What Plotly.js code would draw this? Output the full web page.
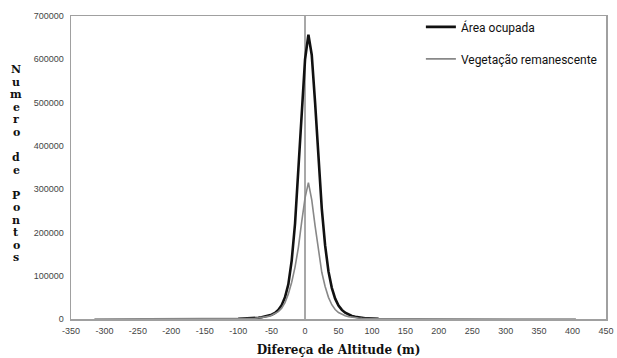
<!DOCTYPE html>
<html>
<head>
<meta charset="utf-8">
<script src="https://cdn.plot.ly/plotly-3.0.1.min.js"></script>
<style>html,body{margin:0;padding:0;background:#fff;}#chart{width:617px;height:358px;}</style>
</head>
<body>
<div id="chart"></div>
<script>
// Área ocupada
var xOcupada = [-100,-95,-90,-85,-80,-75,-70,-65,-60,-55,-50,-45,-40,-35,-30,-25,-20,-15,-10,-5,0,5,10,15,20,25,30,35,40,45,50,55,60,65,70,75,80,85,90,95,100,105,110];
var yOcupada = [400,600,900,1200,1600,2200,3000,4000,5500,7500,10000,14000,21000,32000,50000,80000,135000,220000,340000,480000,600000,657000,610000,500000,370000,255000,170000,110000,72000,47000,31000,21000,14500,10000,7000,5000,3600,2600,1900,1400,1000,700,450];
// Vegetação remanescente
var xVegetacao = [-315,-300,-250,-200,-150,-100,-95,-90,-85,-80,-75,-70,-65,-60,-55,-50,-45,-40,-35,-30,-25,-20,-15,-10,-5,0,5,10,15,20,25,30,35,40,45,50,55,60,65,70,75,80,85,90,95,100,105,110,150,200,250,300,350,405];
var yVegetacao = [30,40,60,80,150,500,650,850,1100,1500,1900,2500,3300,4500,6000,8500,12000,17000,25000,38000,58000,85000,120000,165000,225000,280000,315000,275000,215000,155000,108000,75000,50000,33000,22000,15000,10500,7500,5500,4000,3000,2200,1700,1300,1000,800,600,450,200,100,80,50,40,30];
var xTicks = [-350,-300,-250,-200,-150,-100,-50,0,50,100,150,200,250,300,350,400,450];
var yTicks = [0,100000,200000,300000,400000,500000,600000,700000];
var yTitle = "Numero de Pontos";
var xTitle = "Difereça de Altitude (m)";

var traces = [
  {x: xOcupada, y: yOcupada, name: "Área ocupada", type: "scatter", mode: "lines",
   line: {color: "#111111", width: 2.6}, legendgroup: "a"},
  {x: xVegetacao, y: yVegetacao, name: "Vegetação remanescente", type: "scatter", mode: "lines",
   line: {color: "#888888", width: 1.6}, legendgroup: "b"}
];

var ann = [];
var chars = yTitle.split("");
var top0 = 70, step = 12.5, H = 358, mt = 16, mb = 39;
var ph = H - mt - mb;
chars.forEach(function(c, i){
  if (c === " ") return;
  var py = top0 + i * step;
  ann.push({text: "<b>" + c + "</b>", xref: "paper", yref: "paper",
    x: (16 - 71) / 535, y: 1 - (py - mt) / ph, xanchor: "center", yanchor: "middle",
    showarrow: false, font: {family: "DejaVu Serif", size: 11, color: "#111"}});
});

var layout = {
  width: 617, height: 358,
  margin: {l: 71, r: 11, t: 16, b: 39, autoexpand: false},
  paper_bgcolor: "#fff", plot_bgcolor: "#fff",
  showlegend: true,
  legend: {x: 0.654, y: 1.012, xanchor: "left", yanchor: "top", traceorder: "grouped",
    tracegroupgap: 13, bgcolor: "rgba(0,0,0,0)",
    font: {family: "Roboto, Liberation Sans, Arial", size: 12, color: "#111"}},
  xaxis: {range: [-350, 450], tickvals: xTicks, ticktext: xTicks.map(String), showgrid: false,
    zeroline: true, zerolinecolor: "#a8a8a8", zerolinewidth: 1.5,
    showline: true, linecolor: "#a0a0a0", linewidth: 1.5, mirror: true, ticks: "",
    ticklabelstandoff: 3,
    tickfont: {family: "Liberation Sans, Arial", size: 9, color: "#444"},
    title: {text: "<b>" + xTitle + "</b>", font: {family: "DejaVu Serif", size: 12, color: "#111"}, standoff: 10}},
  yaxis: {range: [0, 700000], tickvals: yTicks, ticktext: yTicks.map(String), showgrid: false,
    zeroline: false, showline: true, linecolor: "#a0a0a0", linewidth: 1.5, mirror: true, ticks: "",
    ticklabelstandoff: 4,
    tickfont: {family: "Liberation Sans, Arial", size: 9, color: "#444"}},
  annotations: ann
};

Plotly.newPlot("chart", traces, layout, {displayModeBar: false, staticPlot: true});
</script>
</body>
</html>
